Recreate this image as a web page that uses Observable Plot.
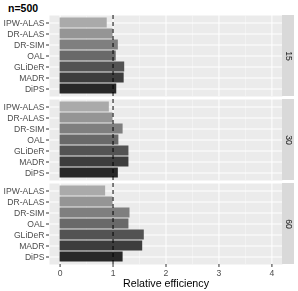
<!DOCTYPE html>
<html><head><meta charset="utf-8">
<script src="https://cdn.jsdelivr.net/npm/d3@7"></script>
<script src="https://cdn.jsdelivr.net/npm/@observablehq/plot@0.6"></script>
<style>
body{margin:0;background:#fff;}
#wrap{position:relative;width:298px;height:291px;font-family:"Liberation Sans",Arial,sans-serif;}
#title{position:absolute;left:8px;top:2px;font-weight:bold;font-size:10.5px;line-height:12px;color:#000;}
#wrap svg{will-change:transform;}
</style></head><body><div id="wrap"><div id="title"></div></div>
<script>
const titleText = "n=500";
const xLabel = "Relative efficiency";
const methods = ["IPW-ALAS","DR-ALAS","DR-SIM","OAL","GLiDeR","MADR","DiPS"];
const panels = ["15","30","60"];
const values15 = [0.89,1.00,1.10,1.06,1.22,1.21,1.07];
const values30 = [0.93,1.00,1.19,1.11,1.30,1.30,1.10];
const values60 = [0.86,1.00,1.32,1.30,1.59,1.56,1.19];
const xTicks = [0,1,2,3,4];
const xMinor = [0.5,1.5,2.5,3.5];
const refLine = [1];
const fills = ["#aaaaaa","#959595","#7f7f7f","#696969","#535353","#3d3d3d","#282828"];

document.getElementById("title").textContent = titleText;

const seriesByPanel = {"15": values15, "30": values30, "60": values60};
const rows = [];
for (const p of panels) methods.forEach((m, i) => rows.push({panel: p, method: m, value: seriesByPanel[p][i]}));

const W = 298, H = 291, mL = 49, mR = 16, mT = 14.5, mB = 26.5;
const xDom = [-0.2, 4.2];
const pxPerUnit = (W - mL - mR) / (xDom[1] - xDom[0]);
const stripW = 12;

const chart = Plot.plot({
  width: W, height: H,
  marginLeft: mL, marginRight: mR, marginTop: mT, marginBottom: mB,
  style: {fontFamily: '"Liberation Sans", Arial, sans-serif', fontSize: "8.6px", color: "#4d4d4d", background: "transparent"},
  x: {domain: xDom, axis: null},
  y: {domain: methods, paddingInner: 0.1, paddingOuter: 0.15, axis: null},
  fy: {domain: panels, paddingInner: 0.033, paddingOuter: 0, axis: null, label: null},
  color: {domain: methods, range: fills},
  marks: [
    Plot.frame({fill: "#ebebeb", stroke: null}),
    Plot.ruleX(xMinor, {stroke: "#f6f6f6", strokeWidth: 0.6}),
    Plot.ruleX(xTicks, {stroke: "#ffffff", strokeWidth: 1}),
    Plot.ruleY(methods, {y: d => d, stroke: "#ffffff", strokeWidth: 1}),
    Plot.barX(rows, {x: "value", y: "method", fy: "panel", fill: "method"}),
    Plot.ruleX(refLine, {stroke: "#000", strokeWidth: 1, strokeDasharray: "4,3"}),
    Plot.rect(panels, {fy: d => d, x1: xDom[1], x2: xDom[1] + stripW / pxPerUnit, fill: "#d9d9d9", clip: false}),
    Plot.text(panels, {fy: d => d, x: xDom[1] + (stripW / 2) / pxPerUnit, text: d => d, rotate: 90, fontSize: 8.6, fill: "#1a1a1a", clip: false}),
    Plot.axisY({domain: methods, tickSize: 3, tickPadding: 2, stroke: "#333", fill: "#4d4d4d", label: null}),
    Plot.axisX({ticks: xTicks, tickFormat: d => String(d), tickSize: 3, tickPadding: 2, stroke: "#333", fill: "#4d4d4d", label: null}),
    Plot.axisX({ticks: [], tickSize: 0, label: xLabel, labelArrow: "none", labelAnchor: "center", labelOffset: 22, fill: "#000", fontSize: 10.7})
  ]
});
document.getElementById("wrap").appendChild(chart);
</script></body></html>
